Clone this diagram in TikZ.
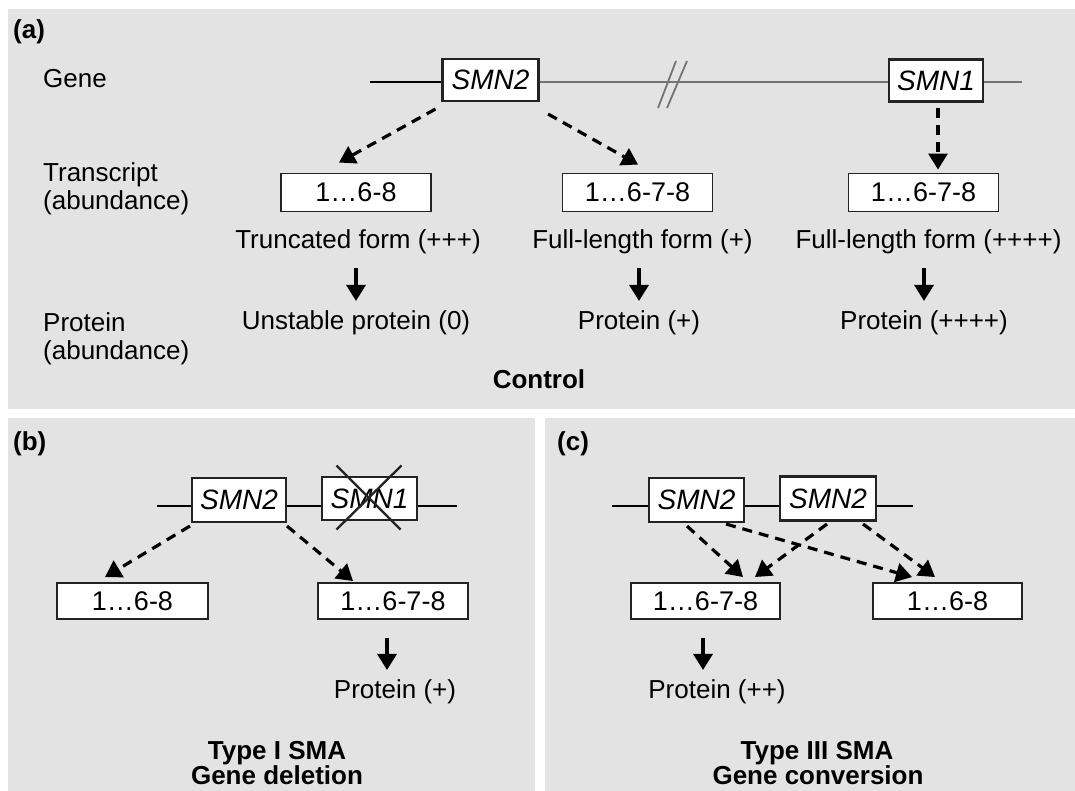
\documentclass[tikz,border=0pt]{standalone}
\usepackage{fontspec}
\setmainfont{Liberation Sans}
\usetikzlibrary{arrows.meta,calc}
\definecolor{panelgray}{RGB}{227,227,227}
\definecolor{linegray}{RGB}{115,115,115}
\definecolor{boxline}{RGB}{35,35,35}
\begin{document}
\begin{tikzpicture}[x=1pt,y=-1pt,
  every node/.style={font=\fontsize{26}{29}\selectfont, text=black},
  genebox/.style={draw=boxline, line width=2.1pt, fill=white, minimum width=95pt, minimum height=42pt, inner sep=0pt, font=\fontsize{28}{30}\selectfont\itshape},
  txbox/.style={draw=boxline, line width=1.9pt, fill=white, minimum width=150pt, minimum height=38pt, inner sep=0pt, font=\fontsize{27}{30}\selectfont},
  lbl/.style={anchor=base west, inner sep=0pt},
  ctext/.style={anchor=base, inner sep=0pt},
  boldlbl/.style={anchor=base west, inner sep=0pt, font=\fontsize{26}{29}\selectfont\bfseries},
  boldtext/.style={anchor=base, inner sep=0pt, font=\fontsize{26}{29}\selectfont\bfseries},
  dasharrow/.style={line width=3.2pt, dash pattern=on 10pt off 7pt, -{Triangle[length=16pt,width=19pt]}},
  downarrow/.style={line width=3.4pt, -{Triangle[length=16pt,width=19pt]}},
  geneline/.style={line width=2pt},
  crossline/.style={line width=2.3pt, draw=boxline},
]
\clip (0,0) rectangle (1075,791);
\fill[white] (0,0) rectangle (1075,791);
\fill[panelgray] (8,9) rectangle (1075,409);
\fill[panelgray] (8,418) rectangle (535,791);
\fill[panelgray] (545,418) rectangle (1075,791);

% ---------- panel (a) ----------
\node[boldlbl] (la) at (13,39) {(a)};
\node[lbl] (gene) at (43,88) {Gene};
\node[lbl] (tr1) at (43,182) {Transcript};
\node[lbl] (tr2) at (43,210) {(abundance)};
\node[lbl] (pr1) at (43,331) {Protein};
\node[lbl] (pr2) at (43,359) {(abundance)};

\coordinate (ga0) at (370,82);
\coordinate (ga1) at (1022,82);
\node[genebox, minimum width=96pt] (smn2a) at (490.5,80) {SMN2};
\node[genebox, minimum width=94pt] (smn1a) at (936,80.5) {SMN1};
\draw[geneline] (ga0) -- (ga0 -| smn2a.west);
\draw[geneline, linegray] (ga0 -| smn2a.east) -- (ga0 -| smn1a.west);
\draw[geneline, linegray] (ga0 -| smn1a.east) -- (ga1);
\draw[linegray, line width=1.8pt] (658,108) -- (676,61);
\draw[linegray, line width=1.8pt] (667,108) -- (687,61);

\node[txbox] (ta1) at (356,192.5) {1…6-8};
\node[txbox] (ta2) at (637.5,192.5) {1…6-7-8};
\node[txbox] (ta3) at (923.5,192.5) {1…6-7-8};

\draw[dasharrow] ([shift={(-6,7)}]smn2a.south west) -- ([shift={(-17,-10)}]ta1.north);
\draw[dasharrow] ([shift={(8.5,12)}]smn2a.south east) -- ([shift={(0.5,-8)}]ta2.north);
\draw[dasharrow] ([shift={(2,5)}]smn1a.south) -- ([shift={(14.5,-3)}]ta3.north);

\node[ctext] (fa1) at (358,249) {Truncated form (+++)};
\node[ctext] (fa2) at (642.5,249) {Full-length form (+)};
\node[ctext] (fa3) at (928.5,249) {Full-length form (++++)};
\node[ctext] (pa1) at (356,329) {Unstable protein (0)};
\node[ctext] (pa2) at (639,329) {Protein (+)};
\node[ctext] (pa3) at (924,329) {Protein (++++)};
\node[boldtext] (ctrl) at (539,388) {Control};

\draw[downarrow, shorten <=13pt, shorten >=9pt] (fa1.south -| pa1.north) -- (pa1.north);
\draw[downarrow, shorten <=13pt, shorten >=9pt] (fa2.south -| pa2.north) -- (pa2.north);
\draw[downarrow, shorten <=13pt, shorten >=9pt] (fa3.south -| pa3.north) -- (pa3.north);

% ---------- panel (b) ----------
\node[boldlbl] (lb) at (13,450) {(b)};
\coordinate (gb0) at (157,506);
\coordinate (gb1) at (457,506);
\node[genebox, minimum width=94pt, minimum height=44pt] (smn2b) at (239,500) {SMN2};
\node[genebox, minimum width=95pt, minimum height=43pt] (smn1b) at (369.5,498.5) {SMN1};
\draw[geneline] (gb0) -- (gb0 -| smn2b.west);
\draw[geneline] (gb0 -| smn2b.east) -- (gb0 -| smn1b.west);
\draw[geneline] (gb0 -| smn1b.east) -- (gb1);
\draw[crossline] ([shift={(-33,-33)}]smn1b.center) -- ([shift={(31,31)}]smn1b.center);
\draw[crossline] ([shift={(32,-33)}]smn1b.center) -- ([shift={(-33,31)}]smn1b.center);

\node[txbox, minimum width=151pt, minimum height=36pt] (tb1) at (132.5,601) {1…6-8};
\node[txbox, minimum width=150pt, minimum height=36pt] (tb2) at (393,601) {1…6-7-8};

\draw[dasharrow] ([shift={(-1,3)}]smn2b.south west) -- ([shift={(-27.5,-5)}]tb1.north);
\draw[dasharrow] ([shift={(0,3)}]smn2b.south east) -- ([shift={(-40,-1)}]tb2.north);

\node[ctext] (pb) at (395,698) {Protein (+)};
\draw[downarrow] ([shift={(-6,18)}]tb2.south) -- ([shift={(-8,-9)}]pb.north);

\node[boldtext] (tyb) at (277,759) {Type I SMA};
\node[boldtext] (gdb) at (277,784) {Gene deletion};

% ---------- panel (c) ----------
\node[boldlbl] (lc) at (557,450) {(c)};
\coordinate (gc0) at (612,506);
\coordinate (gc1) at (913,506);
\node[genebox, minimum width=95pt, minimum height=44pt] (smn2c) at (696.5,500) {SMN2};
\node[genebox, minimum width=96pt, minimum height=44pt] (smn2d) at (828,498.5) {SMN2};
\draw[geneline] (gc0) -- (gc0 -| smn2c.west);
\draw[geneline] (gc0 -| smn2c.east) -- (gc0 -| smn2d.west);
\draw[geneline] (gc0 -| smn2d.east) -- (gc1);

\node[txbox, minimum width=149pt, minimum height=36pt] (tc1) at (705.5,601) {1…6-7-8};
\node[txbox, minimum width=149pt, minimum height=36pt] (tc2) at (947.5,601) {1…6-8};

\draw[dasharrow] ([shift={(-9.5,3)}]smn2c.south) -- ([shift={(37.5,-5)}]tc1.north);
\draw[dasharrow] ([shift={(-19,1)}]smn2c.south east) -- ([shift={(-35.5,-5)}]tc2.north);
\draw[dasharrow] ([shift={(-1,2.5)}]smn2d.south) -- ([shift={(49.5,-5)}]tc1.north);
\draw[dasharrow] ([shift={(-14,2.5)}]smn2d.south east) -- ([shift={(-12.5,-5)}]tc2.north);

\node[ctext] (pc) at (717,698) {Protein (++)};
\draw[downarrow] ([shift={(-2.5,18)}]tc1.south) -- ([shift={(-14,-9)}]pc.north);

\node[boldtext] (tyc) at (817,759) {Type III SMA};
\node[boldtext] (gdc) at (818,784) {Gene conversion};
\end{tikzpicture}
\end{document}
